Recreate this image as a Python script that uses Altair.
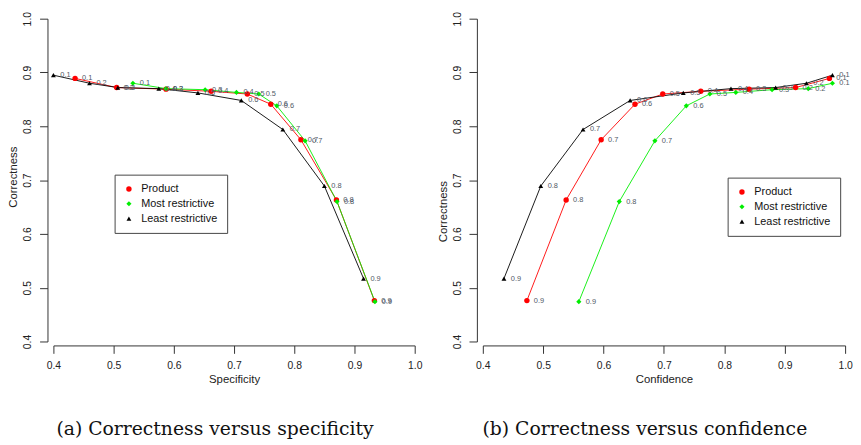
import altair as alt
import pandas as pd

# ---------------- data ----------------
thresholds = ["0.1", "0.2", "0.3", "0.4", "0.5", "0.6", "0.7", "0.8", "0.9"]
series_names = ["Product", "Most restrictive", "Least restrictive"]

correctness_product = [0.889, 0.872, 0.869, 0.865, 0.860, 0.841, 0.775, 0.663, 0.476]
correctness_most = [0.880, 0.870, 0.868, 0.863, 0.860, 0.838, 0.773, 0.660, 0.474]
correctness_least = [0.895, 0.880, 0.872, 0.870, 0.862, 0.848, 0.794, 0.689, 0.517]

specificity_product = [0.436, 0.505, 0.587, 0.662, 0.722, 0.761, 0.811, 0.870, 0.933]
specificity_most = [0.532, 0.587, 0.652, 0.704, 0.741, 0.771, 0.818, 0.871, 0.934]
specificity_least = [0.400, 0.460, 0.507, 0.575, 0.640, 0.712, 0.781, 0.850, 0.915]

confidence_product = [0.974, 0.918, 0.841, 0.761, 0.698, 0.652, 0.596, 0.538, 0.473]
confidence_most = [0.979, 0.939, 0.879, 0.819, 0.776, 0.737, 0.685, 0.626, 0.559]
confidence_least = [0.979, 0.936, 0.885, 0.811, 0.732, 0.644, 0.566, 0.496, 0.435]

axis_ticks = [0.4, 0.5, 0.6, 0.7, 0.8, 0.9, 1.0]

# ---------------- styling ----------------
colors = ["#ff0000", "#00ee00", "#000000"]
shapes = ["circle", "diamond", "triangle-up"]
sizes = [30, 24, 46]
SANS = "Liberation Sans"
SERIF = "DejaVu Serif"
AXIS_COLOR = "#333333"
TEXT_COLOR = "#222222"
LABEL_COLOR = "#505a66"


def build_frame(x_by_series):
    rows = []
    corr = [correctness_product, correctness_most, correctness_least]
    for s, xs, ys in zip(series_names, x_by_series, corr):
        for i, (t, xv, yv) in enumerate(zip(thresholds, xs, ys)):
            rows.append({"series": s, "threshold": t, "step": i, "x": xv, "y": yv})
    return pd.DataFrame(rows)


def panel(df, xtitle, caption, legend_x, legend_y, width, height, ytitle_y):
    x_axis = alt.Axis(
        title=xtitle, values=axis_ticks, format=".1f", offset=4, tickSize=8,
        labelPadding=7, titlePadding=3, labelFlush=False, labelOverlap=False,
        grid=False, domainColor=AXIS_COLOR, tickColor=AXIS_COLOR,
        labelFont=SANS, labelFontSize=10.5, labelColor=TEXT_COLOR,
        titleFont=SANS, titleFontSize=11.5, titleFontWeight="normal",
        titleColor=TEXT_COLOR,
    )
    y_axis = alt.Axis(
        title="Correctness", values=axis_ticks, format=".1f", offset=6,
        tickSize=8, labelAngle=270, labelAlign="center", labelBaseline="bottom",
        labelPadding=7, titlePadding=4, titleY=ytitle_y, labelFlush=False, labelOverlap=False,
        grid=False, domainColor=AXIS_COLOR, tickColor=AXIS_COLOR,
        labelFont=SANS, labelFontSize=10.5, labelColor=TEXT_COLOR,
        titleFont=SANS, titleFontSize=11.5, titleFontWeight="normal",
        titleColor=TEXT_COLOR,
    )
    x = alt.X("x:Q", scale=alt.Scale(domain=[0.4, 1.0], nice=False, zero=False), axis=x_axis)
    y = alt.Y("y:Q", scale=alt.Scale(domain=[0.4, 1.0], nice=False, zero=False), axis=y_axis)

    legend = alt.Legend(
        title=None, orient="none", legendX=legend_x, legendY=legend_y,
        strokeColor="#444444", fillColor="white", padding=9, rowPadding=3,
        labelFont=SANS, labelFontSize=11, labelColor="#111111", labelOffset=7,
        symbolSize=24, symbolStrokeWidth=0, cornerRadius=0,
    )
    color = alt.Color("series:N", scale=alt.Scale(domain=series_names, range=colors), legend=legend)
    shape = alt.Shape("series:N", scale=alt.Scale(domain=series_names, range=shapes), legend=legend)
    size = alt.Size("series:N", scale=alt.Scale(domain=series_names, range=sizes), legend=None)

    base = alt.Chart(df)
    lines = base.mark_line(strokeWidth=0.9).encode(
        x=x, y=y, color=color, detail="series:N", order="step:Q",
    )
    points = base.mark_point(filled=True, opacity=1, strokeWidth=0).encode(
        x=x, y=y, color=color, shape=shape, size=size,
    )
    labels = base.mark_text(align="left", baseline="middle", dx=7, fontSize=7.5,
                            font=SANS, color=LABEL_COLOR).encode(x=x, y=y, text="threshold:N")
    return alt.layer(lines, points, labels).properties(
        width=width, height=height,
        title=alt.TitleParams(text=caption, orient="bottom", anchor="middle", frame="bounds",
                              font=SERIF, fontSize=19, fontWeight="normal", color="#111111",
                              offset=36),
    )


df_a = build_frame([specificity_product, specificity_most, specificity_least])
df_b = build_frame([confidence_product, confidence_most, confidence_least])

chart_a = panel(df_a, "Specificity", "(a) Correctness versus specificity", 62, 158, 366, 327, 160)
chart_b = panel(df_b, "Confidence", "(b) Correctness versus confidence", 248, 161, 367, 327, 195)

chart = (
    alt.hconcat(chart_a, chart_b, spacing=15)
    .resolve_scale(x="independent", y="independent", color="independent",
                   shape="independent", size="independent")
    .resolve_legend(color="independent", shape="independent")
    .properties(padding={"left": 0, "top": 0, "right": 0, "bottom": 0}, background="white")
    .configure_view(stroke=None)
)

chart.save("out.html", embed_options={"renderer": "svg", "actions": False})
